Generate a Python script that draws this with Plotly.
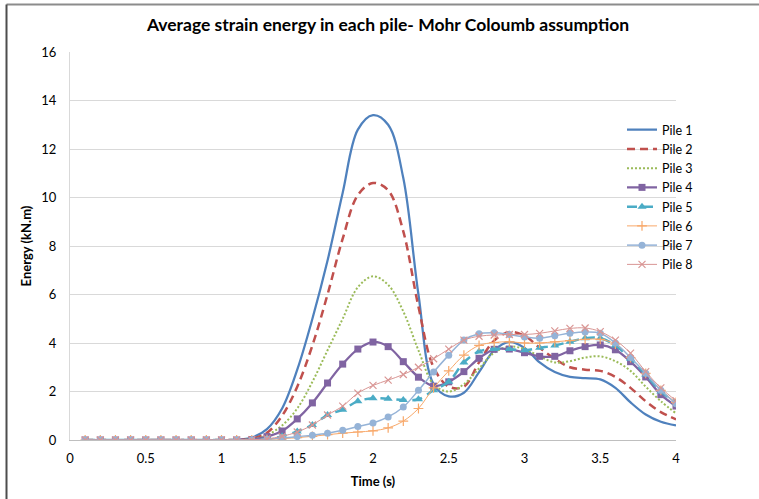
import plotly.graph_objects as go

# Time steps (s)
time_s = [0.1, 0.2, 0.3, 0.4, 0.5, 0.6, 0.7, 0.8, 0.9, 1.0,
          1.1, 1.2, 1.3, 1.4, 1.5, 1.6, 1.7, 1.8, 1.9, 2.0,
          2.1, 2.2, 2.3, 2.4, 2.5, 2.6, 2.7, 2.8, 2.9, 3.0,
          3.1, 3.2, 3.3, 3.4, 3.5, 3.6, 3.7, 3.8, 3.9, 4.0]

# Average strain energy per pile (kN.m)
pile_1 = [0, 0, 0, 0, 0, 0, 0, 0, 0, 0,
          0, 0.1, 0.45, 1.3, 2.9, 5.0, 7.4, 10.2, 12.8, 13.4,
          13.0, 10.8, 6.0, 2.3, 1.8, 1.95, 2.8, 3.7, 4.05, 3.8,
          3.2, 2.8, 2.6, 2.55, 2.5, 2.15, 1.55, 1.05, 0.75, 0.6]
pile_2 = [0, 0, 0, 0, 0, 0, 0, 0, 0, 0,
          0, 0.05, 0.3, 1.0, 2.2, 3.9, 6.0, 8.3, 10.1, 10.6,
          10.3, 8.6, 5.5, 3.0, 2.2, 2.2, 3.2, 4.1, 4.45, 4.3,
          3.8, 3.35, 3.0, 2.9, 2.85, 2.6, 2.15, 1.6, 1.15, 0.85]
pile_3 = [0, 0, 0, 0, 0, 0, 0, 0, 0, 0,
          0, 0.03, 0.2, 0.6, 1.3, 2.4, 3.7, 5.0, 6.3, 6.75,
          6.4, 5.3, 3.7, 2.3, 2.0, 2.3, 2.95, 3.6, 3.85, 3.75,
          3.45, 3.2, 3.25, 3.4, 3.45, 3.25, 2.85, 2.2, 1.6, 1.1]
pile_4 = [0, 0, 0, 0, 0, 0, 0, 0, 0, 0,
          0, 0.02, 0.14, 0.37, 0.87, 1.53, 2.35, 3.13, 3.75, 4.04,
          3.85, 3.23, 2.59, 2.22, 2.4, 2.82, 3.37, 3.74, 3.75, 3.6,
          3.45, 3.45, 3.68, 3.85, 3.92, 3.72, 3.23, 2.6, 1.87, 1.4]
pile_5 = [0, 0, 0, 0, 0, 0, 0, 0, 0, 0,
          0, 0.01, 0.05, 0.15, 0.35, 0.62, 1.03, 1.25, 1.6, 1.72,
          1.7, 1.65, 1.68, 2.05, 2.4, 3.2, 3.65, 3.75, 3.75, 3.7,
          3.8, 3.9, 4.05, 4.2, 4.2, 3.9, 3.35, 2.7, 2.0, 1.55]
pile_6 = [0, 0, 0, 0, 0, 0, 0, 0, 0, 0,
          0, 0.0, 0.02, 0.05, 0.1, 0.15, 0.22, 0.28, 0.33, 0.38,
          0.5, 0.78, 1.3, 2.15, 2.85, 3.5, 3.9, 4.02, 4.05, 4.0,
          4.0, 4.05, 4.1, 4.15, 4.15, 3.95, 3.4, 2.75, 2.05, 1.55]
pile_7 = [0, 0, 0, 0, 0, 0, 0, 0, 0, 0,
          0, 0.01, 0.03, 0.08, 0.14, 0.2, 0.28, 0.4, 0.56, 0.7,
          0.95, 1.36, 2.05, 2.8, 3.5, 4.12, 4.38, 4.42, 4.35, 4.25,
          4.2, 4.3, 4.4, 4.45, 4.4, 4.0, 3.4, 2.75, 2.05, 1.5]
pile_8 = [0, 0, 0, 0, 0, 0, 0, 0, 0, 0,
          0, 0.01, 0.05, 0.15, 0.33, 0.62, 1.03, 1.4, 1.93, 2.25,
          2.47, 2.7, 3.0, 3.35, 3.75, 4.12, 4.28, 4.33, 4.35, 4.35,
          4.4, 4.5, 4.6, 4.62, 4.47, 4.12, 3.58, 2.82, 2.15, 1.62]

series_names = ["Pile 1", "Pile 2", "Pile 3", "Pile 4",
                "Pile 5", "Pile 6", "Pile 7", "Pile 8"]
series_values = [pile_1, pile_2, pile_3, pile_4,
                 pile_5, pile_6, pile_7, pile_8]

x_ticks = [0, 0.5, 1, 1.5, 2, 2.5, 3, 3.5, 4]
x_tick_text = ["0", "0.5", "1", "1.5", "2", "2.5", "3", "3.5", "4"]
y_ticks = [0, 2, 4, 6, 8, 10, 12, 14, 16]

# Line / marker styling for each pile
styles = [
    dict(line=dict(color="#4F81BD", width=2.25), mode="lines"),
    dict(line=dict(color="#C0504D", width=2.5, dash="8px,5px"), mode="lines"),
    dict(line=dict(color="#9BBB59", width=2, dash="2px,2px"), mode="lines"),
    dict(line=dict(color="#8064A2", width=2.25), mode="lines+markers",
         marker=dict(symbol="square", size=7, color="#8064A2")),
    dict(line=dict(color="#4BACC6", width=2.5, dash="10px,6px"), mode="lines+markers",
         marker=dict(symbol="triangle-up", size=8, color="#4BACC6")),
    dict(line=dict(color="#F8A86A", width=1), mode="lines+markers",
         marker=dict(symbol="cross-thin-open", size=7,
                     line=dict(color="#F79646", width=1.2))),
    dict(line=dict(color="#95B3D7", width=1.5), mode="lines+markers",
         marker=dict(symbol="circle", size=7, color="#95B3D7")),
    dict(line=dict(color="#D99694", width=1), mode="lines+markers",
         marker=dict(symbol="x-thin-open", size=7,
                     line=dict(color="#D99694", width=1.2))),
]

fig = go.Figure()
for name, vals, st in zip(series_names, series_values, styles):
    line = dict(st["line"])
    line["shape"] = "spline"
    line["smoothing"] = 1.0
    kw = dict(x=time_s, y=vals, name=name, mode=st["mode"], line=line)
    if "marker" in st:
        kw["marker"] = st["marker"]
    fig.add_trace(go.Scatter(**kw))

W, H = 759, 499
L, R, T, B = 70, 83, 52, 59
plot_w = W - L - R
plot_h = H - T - B

def px_x(p):
    return (p - L) / plot_w

def px_y(q):
    return (H - B - q) / plot_h

font_family = "Lato, 'Open Sans', sans-serif"

fig.update_layout(
    width=W, height=H,
    margin=dict(l=L, r=R, t=T, b=B, autoexpand=False),
    paper_bgcolor="white", plot_bgcolor="white",
    font=dict(family=font_family, color="#000000"),
    title=dict(text="<b>Average strain energy in each pile- Mohr Coloumb assumption</b>",
               x=px_x(388), xanchor="center", xref="paper",
               y=1 - 25 / H, yanchor="middle",
               font=dict(size=17.5, family=font_family, color="#000000")),
    showlegend=True,
    legend=dict(x=px_x(622), xanchor="left", y=px_y(115), yanchor="top",
                bgcolor="rgba(0,0,0,0)", font=dict(size=12.5, family=font_family),
                tracegroupgap=0, itemwidth=30),
    xaxis=dict(range=[0, 4], tickvals=x_ticks, ticktext=x_tick_text,
               showgrid=False, zeroline=False,
               showline=True, linecolor="#BFBFBF", linewidth=1,
               ticks="", ticklabelstandoff=6,
               tickfont=dict(size=13, family=font_family),
               title=dict(text="<b>Time (s)</b>", font=dict(size=13), standoff=12)),
    yaxis=dict(range=[0, 16], tickvals=y_ticks,
               showgrid=True, gridcolor="#D9D9D9", gridwidth=1,
               zeroline=False, showline=True, linecolor="#D9D9D9", linewidth=1,
               ticks="", ticklabelstandoff=10,
               tickfont=dict(size=13, family=font_family),
               title=dict(text="<b>Energy (kN.m)</b>", font=dict(size=13), standoff=6)),
    shapes=[
        # outer chart frame (top and left edges)
        dict(type="line", xref="paper", yref="paper",
             x0=px_x(6.5), x1=px_x(W), y0=px_y(4.5), y1=px_y(4.5),
             line=dict(color="#8C8C8C", width=2)),
        dict(type="line", xref="paper", yref="paper",
             x0=px_x(6.5), x1=px_x(6.5), y0=px_y(4.5), y1=px_y(H),
             line=dict(color="#4D4D4D", width=2)),
    ],
)

fig.update_xaxes(tickprefix="<b>", ticksuffix="</b>")
fig.update_yaxes(tickprefix="<b>", ticksuffix="</b>")

fig.write_html("out.html")
